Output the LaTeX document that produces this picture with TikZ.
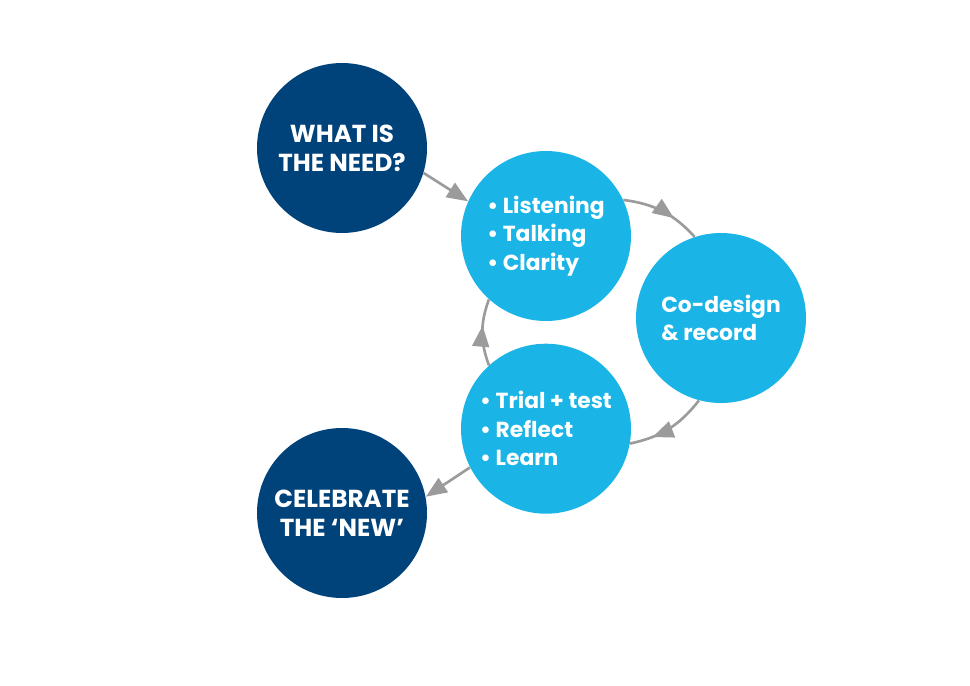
\documentclass[tikz,border=0pt]{standalone}
\usepackage{fontspec}
\setmainfont{Poppins}
\usetikzlibrary{arrows.meta, positioning, decorations.markings}
\definecolor{needblue}{HTML}{00427A}
\definecolor{loopblue}{HTML}{1AB4E6}
\definecolor{arrowgrey}{HTML}{9B9B9B}
\tikzset{
  darkcircle/.style={
    circle,
    fill=needblue,
    text=white,
    align=center,
    minimum size=34mm,
    inner sep=0pt,
    font=\bfseries\fontsize{14}{16.4}\selectfont
  },
  lightcircle/.style={
    circle,
    fill=loopblue,
    text=white,
    align=left,
    minimum size=34mm,
    inner sep=0pt,
    font=\bfseries\fontsize{12.4}{16.3}\selectfont
  },
  arrow/.style={-{Triangle[length=12pt, width=9.5pt]}, line width=1.5pt, draw=arrowgrey, fill=arrowgrey},
  looparrow/.style={
    line width=1.5pt,
    draw=arrowgrey,
    postaction={decorate},
    decoration={markings,
      mark=at position #1 with {\arrow[arrowgrey]{Triangle[length=12pt, width=9.5pt]}}}
  },
  looparrow/.default=0.66
}

\begin{document}
\begin{tikzpicture}
\useasboundingbox (0,0) rectangle (19.4,13.7);
\node[darkcircle] (need) at (6.84,10.74) {WHAT IS\\THE NEED?};
\node[lightcircle] (listen) at (10.92,8.98) {• Listening\\• Talking\\• Clarity};
\node[lightcircle, below=4.4mm of listen] (trial) {• Trial + test\\• Reflect\\• Learn};
\node[lightcircle] (codesign) at (14.42,7.34) {Co-design\\\& record};
\node[darkcircle] (celebrate) at (6.84,3.44) {CELEBRATE\\THE ‘NEW’};

\draw[arrow] (need.-17) -- (listen.156);
\draw[looparrow] (listen.25) to[bend left=20] (codesign.108);
\draw[looparrow=0.72] (codesign.255) to[bend left=20] (trial.-10);
\draw[looparrow=0.6] (trial.132) to[bend left=20] (listen.228);
\draw[arrow] (trial.207) -- (celebrate.11);
\end{tikzpicture}
\end{document}
